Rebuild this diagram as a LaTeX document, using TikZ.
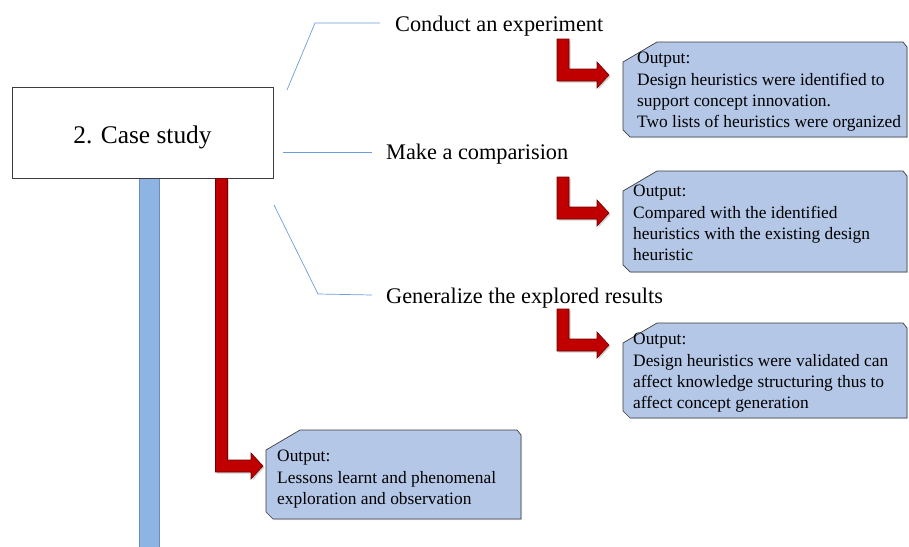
\documentclass[tikz,border=0pt]{standalone}
\usepackage{fontspec}
\setmainfont{Liberation Serif}
\usetikzlibrary{positioning,calc,shadows}

\definecolor{outfill}{HTML}{B4C7E7}
\definecolor{boxedge}{HTML}{3C3C3C}
\definecolor{arrowred}{HTML}{C00000}
\definecolor{arrowedge}{HTML}{6E0000}
\definecolor{barblue}{HTML}{8EB4E3}
\definecolor{baredge}{HTML}{6F8DB4}
\definecolor{linkblue}{HTML}{6C9DD9}

% bent block arrow: #1 top of the bar, #2 tip
\newcommand{\bentarrow}[2]{%
  \path[redarrow] let \p1=#1, \p2=#2 in
    (\x1-6pt,\y1) -- (\x1+6pt,\y1) -- (\x1+6pt,\y2+6pt) -- (\x2-12pt,\y2+6pt)
    -- (\x2-12pt,\y2+13pt) -- (\x2,\y2) -- (\x2-12pt,\y2-13pt)
    -- (\x2-12pt,\y2-6pt) -- (\x1-6pt,\y2-6pt) -- cycle;}
% snipped output box: #1 left, #2 top, #3 right, #4 bottom
\newcommand{\outbox}[4]{%
  \path[outshape] (#1,#2+20) -- (#1+34,#2) -- (#3-4,#2) -- (#3,#2+5)
    -- (#3,#4) -- (#1+7,#4) -- (#1,#4-7) -- cycle;}

\begin{document}
\begin{tikzpicture}[x=1pt,y=-1pt]
  \tikzset{csbox/.style   = {draw=boxedge, line width=0.8pt, fill=white,
                             minimum width=261pt, minimum height=91pt,
                             text height=22pt, text depth=0pt,
                             drop shadow={opacity=0.25, shadow xshift=1pt, shadow yshift=-1pt},
                             font=\fontsize{25.4}{30}\selectfont},
           steplabel/.style = {anchor=west, inner sep=0pt, text depth=0pt,
                             font=\fontsize{22.3}{26}\selectfont},
           outtext/.style = {anchor=north west, inner sep=0pt, align=left,
                             font=\fontsize{17.4}{21.3}\selectfont},
           outshape/.style = {draw=boxedge, line width=0.7pt, fill=outfill,
                             drop shadow={opacity=0.2, shadow xshift=1pt, shadow yshift=-1pt}},
           redarrow/.style = {draw=arrowedge, line width=0.6pt, fill=arrowred,
                             drop shadow={opacity=0.35, shadow xshift=1.5pt, shadow yshift=-1.5pt}},
           link/.style     = {draw=linkblue, line width=0.7pt}}
  \useasboundingbox (0,0) rectangle (909,546);

  \draw[draw=baredge, fill=barblue, line width=0.6pt] (139,178) rectangle (159,548);
  \node[csbox] (cs) at (142.5,132.5) {2. Case study};

  \node[steplabel] (t1) at (395,24)  {Conduct an experiment};
  \node[steplabel] (t2) at (386,152) {Make a comparision};
  \node[steplabel] (t3) at (386,296) {Generalize the explored results};

  \coordinate (l1) at (287,90);
  \coordinate (l2) at (283,152);
  \coordinate (l3) at (274,205);
  \draw[link] (l1) -- (315,23) -- ([xshift=-15pt,yshift=1pt]t1.west);
  \draw[link] (l2) -- ([xshift=-14pt]t2.west);
  \draw[link] (l3) -- (318,294) -- ([xshift=-14pt,yshift=1pt]t3.west);

  \outbox{623}{42}{907}{137}
  \outbox{623}{171}{907}{272}
  \outbox{623}{323}{907}{418}
  \outbox{266}{430}{521}{519}

  \node[outtext] (o1) at (637,52)  {Output:\\Design heuristics were identified to\\support concept innovation.\\Two lists of heuristics were organized};
  \node[outtext] (o2) at (633,185) {Output:\\Compared with the identified\\heuristics with the existing design\\heuristic};
  \node[outtext] (o3) at (633,333) {Output:\\Design heuristics were validated can\\affect knowledge structuring thus to\\affect concept generation};
  \node[outtext] (o4) at (277,450) {Output:\\Lessons learnt and phenomenal\\exploration and observation};

  \bentarrow{(563,39)}{(609,75)}
  \bentarrow{(563,177)}{(609,213)}
  \bentarrow{(563,309)}{(609,345)}
  \coordinate (s4) at ([xshift=79pt]cs.south);% big arrow starts under the box
  \bentarrow{(s4)}{(263,466)}
\end{tikzpicture}
\end{document}
